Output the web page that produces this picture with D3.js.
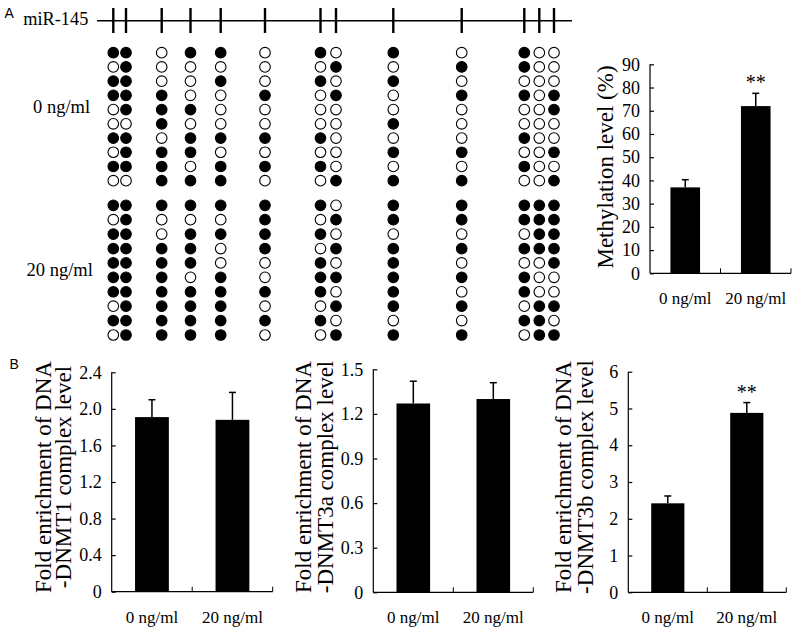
<!DOCTYPE html>
<html><head><meta charset="utf-8">
<script src="https://cdn.jsdelivr.net/npm/d3@7"></script>
<style>
body{margin:0;background:#fff;}
text{font-family:"Liberation Serif","Times New Roman",serif;fill:#000;}
</style></head>
<body>
<svg id="c" width="800" height="629"></svg>
<script>
// ---------- DATA ----------
const cpgSites = [0, 12.7, 48.4, 77.2, 107.4, 151.7, 207.2, 222.7, 280, 348.4, 411, 426, 440.7]; // relative CpG positions
const clones0 = ["1011001010","1111101110","0001110111","1000101101","1010001011","0001001010","1010001010","0101000001","1010010101","0101000101","1101001010","0000000000","0001100101"];
const clones20 = ["1011111010","1111111111","1001111111","1011101111","1010011111","1111001010","1010111010","0101010101","1101111101","1101010101","1101011010","1111000111","1111100101"];
const groups = ["0 ng/ml", "20 ng/ml"];
const methValues = [37, 72];
const methErr = [3.3, 5.5];
const dnmt1Values = [1.91, 1.88];
const dnmt1Err = [0.19, 0.30];
const dnmt3aValues = [1.27, 1.30];
const dnmt3aErr = [0.15, 0.11];
const dnmt3bValues = [2.42, 4.88];
const dnmt3bErr = [0.20, 0.28];
const methTicks = [0,10,20,30,40,50,60,70,80,90];
const dnmt1Ticks = [0,0.4,0.8,1.2,1.6,2.0,2.4];
const dnmt3aTicks = [0,0.3,0.6,0.9,1.2,1.5];
const dnmt3bTicks = [0,1,2,3,4,5,6];

// ---------- DRAW ----------
const svg = d3.select("#c");
const serif = '"Liberation Serif","Times New Roman",serif';
const sans = '"Liberation Sans",Arial,sans-serif';

svg.append("text").attr("x",4.5).attr("y",18).style("font-family",sans).style("font-size","14px").text("A");
svg.append("text").attr("x",9.5).attr("y",369).style("font-family",sans).style("font-size","14px").text("B");

// Lollipop diagram
const xs = d3.scaleLinear().domain([0,440.7]).range([113.3,554]);
svg.append("text").attr("x",23.3).attr("y",24.5).style("font-size","18px")
  .attr("textLength",65).attr("lengthAdjust","spacingAndGlyphs").text("miR-145");
svg.append("line").attr("x1",97).attr("x2",572).attr("y1",20.7).attr("y2",20.7).attr("stroke","#000").attr("stroke-width",1.4);
svg.selectAll("line.site").data(cpgSites).enter().append("line").attr("class","site")
  .attr("x1",d=>xs(d)).attr("x2",d=>xs(d)).attr("y1",8).attr("y2",33)
  .attr("stroke","#000").attr("stroke-width",2.4);

function drawClones(cols, yScale){
  cols.forEach((s,ci)=>{
    svg.append("g").selectAll("circle").data(s.split("")).enter().append("circle")
      .attr("cx",xs(cpgSites[ci])).attr("cy",(d,i)=>yScale(i)).attr("r",5.3)
      .attr("fill",d=>d==="1"?"#000":"#fff").attr("stroke","#000").attr("stroke-width",1.1);
  });
}
drawClones(clones0, d3.scaleLinear().domain([0,9]).range([52.7,180.7]));
drawClones(clones20, d3.scaleLinear().domain([0,9]).range([205.3,335]));
svg.append("text").attr("x",33).attr("y",113).style("font-size","18.5px").text(groups[0]);
svg.append("text").attr("x",26.5).attr("y",276).style("font-size","18.5px").text(groups[1]);

// Bar chart helper
function barChart(o){
  const x = d3.scaleBand().domain(groups).range([o.x0,o.x1]).paddingInner(0.58).paddingOuter(0.29);
  const y = d3.scaleLinear().domain([0,o.max]).range([o.y0,o.y1]);
  const g = svg.append("g");
  g.selectAll("rect").data(o.values).enter().append("rect")
    .attr("x",(d,i)=>x(groups[i])).attr("width",x.bandwidth())
    .attr("y",d=>y(d)).attr("height",d=>o.y0-y(d)).attr("fill","#000");
  o.values.forEach((v,i)=>{
    const cx = x(groups[i])+x.bandwidth()/2;
    g.append("line").attr("x1",cx).attr("x2",cx).attr("y1",y(v)).attr("y2",y(v+o.err[i])).attr("stroke","#000").attr("stroke-width",1.5);
    g.append("line").attr("x1",cx-3.5).attr("x2",cx+3.5).attr("y1",y(v+o.err[i])).attr("y2",y(v+o.err[i])).attr("stroke","#000").attr("stroke-width",1.5);
    if(o.star && o.star[i]){
      g.append("text").attr("x",cx).attr("y",y(v+o.err[i])-4).attr("text-anchor","middle").style("font-size","20px").text("**");
    }
  });
  const ya = d3.axisLeft(y).tickValues(o.ticks).tickSize(-4).tickPadding(10).tickFormat(o.fmt);
  const yg = g.append("g").attr("transform",`translate(${o.x0},0)`).call(ya);
  yg.select(".domain").attr("d",`M0,${o.y0}V${o.y1}`);
  yg.selectAll("text").style("font-family",serif).style("font-size","18px");
  const xa = g.append("g");
  xa.append("line").attr("x1",o.x0).attr("x2",o.x1).attr("y1",o.y0).attr("y2",o.y0).attr("stroke","#000").attr("stroke-width",1.2);
  [o.x0 + (o.x1-o.x0)/2, o.x1].forEach(px=>{
    xa.append("line").attr("x1",px).attr("x2",px).attr("y1",o.y0).attr("y2",o.y0-5).attr("stroke","#000");
  });
  groups.forEach((gname,i)=>{
    xa.append("text").attr("x",x(gname)+x.bandwidth()/2).attr("y",o.y0+o.xlabDy).attr("text-anchor","middle").style("font-size","17px").text(gname);
  });
  g.selectAll(".domain, .tick line").attr("stroke","#000").attr("stroke-width",1.2);
  o.labels.forEach((lab,i)=>{
    g.append("text").attr("transform",`translate(${o.labX[i]},${o.labY}) rotate(-90)`)
      .attr("text-anchor","middle").attr("dominant-baseline","central").style("font-size","23px").text(lab);
  });
}
const fmt1 = d=> d===0 ? "0" : d3.format(".1f")(d);
barChart({x0:650,x1:791,y0:273.3,y1:64.3,max:90,values:methValues,err:methErr,ticks:methTicks,fmt:d3.format("d"),
  star:[false,true],xlabDy:31,labels:["Methylation level (%)"],labX:[605],labY:167});
barChart({x0:111.7,x1:272.7,y0:591.7,y1:372.3,max:2.4,values:dnmt1Values,err:dnmt1Err,ticks:dnmt1Ticks,fmt:fmt1,
  xlabDy:31,labels:["Fold enrichment of DNA","-DNMT1 complex level"],labX:[43.3,63.3],labY:477});
barChart({x0:373.3,x1:533.3,y0:592.3,y1:369.3,max:1.5,values:dnmt3aValues,err:dnmt3aErr,ticks:dnmt3aTicks,fmt:fmt1,
  xlabDy:31,labels:["Fold enrichment of DNA","-DNMT3a complex level"],labX:[303.3,325],labY:477});
barChart({x0:628.3,x1:786.3,y0:592.3,y1:371.7,max:6,values:dnmt3bValues,err:dnmt3bErr,ticks:dnmt3bTicks,fmt:d3.format("d"),
  star:[false,true],xlabDy:31,labels:["Fold enrichment of DNA","-DNMT3b complex level"],labX:[563.3,585],labY:477});
</script>
</body></html>
